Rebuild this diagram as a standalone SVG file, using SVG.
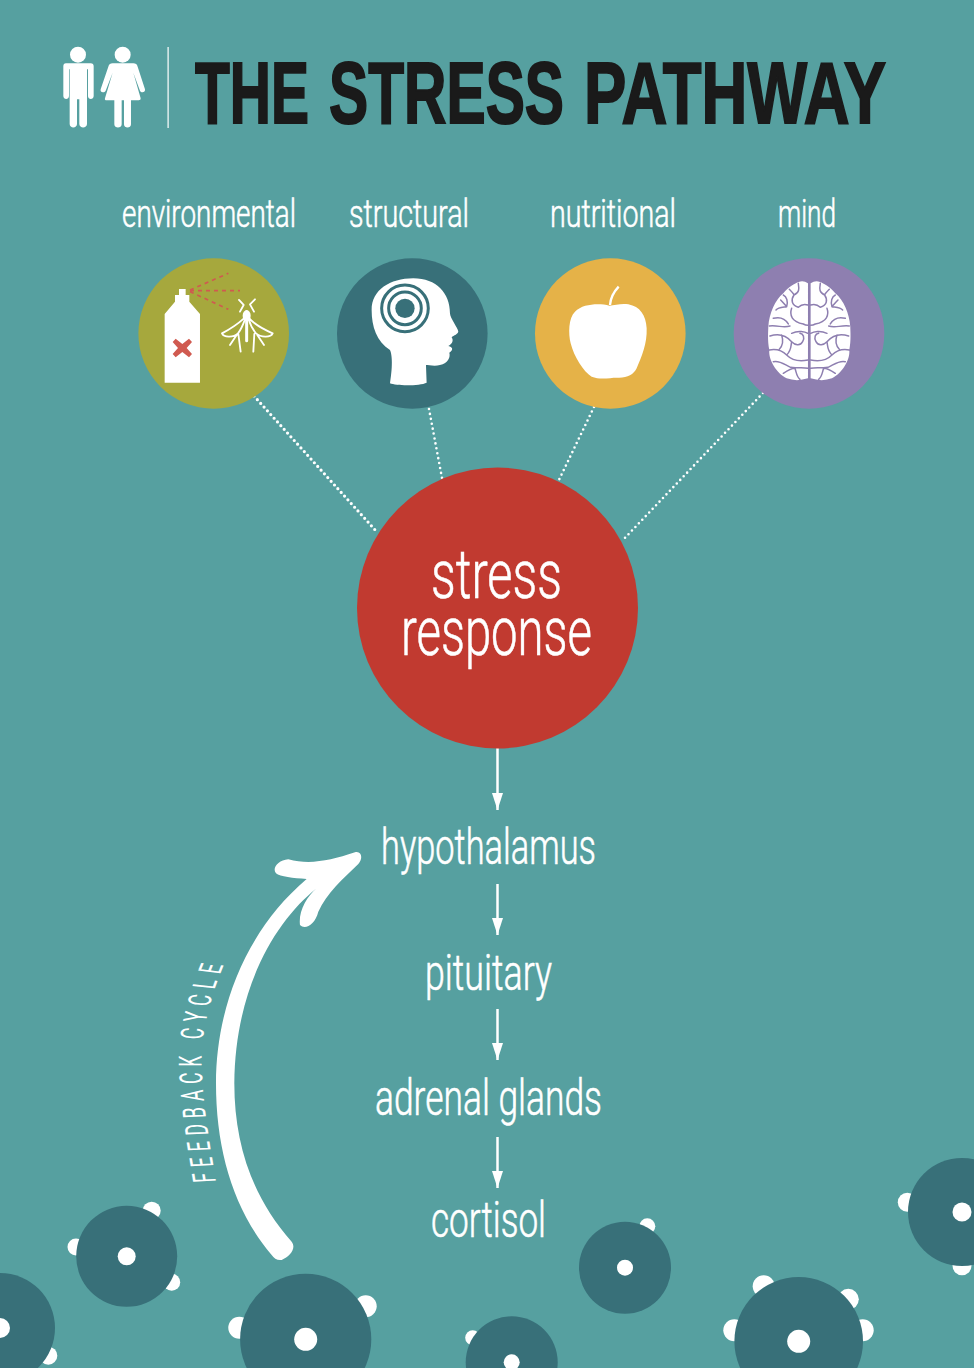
<svg xmlns="http://www.w3.org/2000/svg" width="974" height="1368" viewBox="0 0 974 1368">
<style>
.w{fill:#fff}
.d{fill:#387079}
.t{font-family:"Roboto","Liberation Sans",sans-serif;font-weight:300;fill:#fff;stroke:#fff;stroke-width:.6}
.dot{fill:none;stroke:#fff;stroke-linecap:round;stroke-dasharray:0 5}
.shaft{fill:none;stroke:#fff;stroke-width:2.5}
.wr{fill:none;stroke:#8e7fb0;stroke-width:4.5;stroke-linecap:round;stroke-linejoin:round}
.ms{fill:none;stroke:#fff;stroke-width:5.5;stroke-linejoin:round;stroke-linecap:round}
.sp{fill:none;stroke:#d05a50;stroke-width:5;stroke-dasharray:12 12}
</style>
<defs>
<marker id="ah" markerUnits="userSpaceOnUse" markerWidth="17" markerHeight="12" refX="17" refY="6" orient="auto" viewBox="0 0 17 12"><path d="M0 .5L17 6L0 11.5Z" fill="#fff"/></marker>
<g id="lobe">
<path class="w" d="M836,96 Q850,90 864,100 V385 Q830,396 800,385 C770,370 745,330 748,300 C742,270 745,240 745,230 C748,190 765,150 790,130 C805,110 825,100 836,96Z"/>
<path class="wr" d="M835,100 C838,118 838,128 822,135 C812,150 815,165 835,172 M864,165 C850,160 842,165 835,172 M808,118 C815,125 820,130 822,135 M790,135 C800,140 805,155 800,170 C790,172 775,172 768,180 M815,175 C808,195 815,215 850,222 C855,225 860,226 864,226 M760,205 C780,200 795,205 805,222 M748,228 C775,225 790,235 810,228 M782,150 C790,158 795,165 800,170 M750,258 C780,248 800,258 815,275 C825,285 840,290 848,275 C855,262 850,252 840,250 M815,250 C835,240 855,245 864,250 M748,300 C775,295 790,305 800,315 C815,330 840,335 864,330 M815,275 C812,290 815,300 800,315 M785,255 C790,270 790,285 778,298 M760,335 C780,330 795,345 812,352 C825,356 845,350 864,355 M790,370 C805,360 815,355 825,355 C830,370 830,380 840,388"/>
</g>
</defs>
<rect width="974" height="1368" fill="#56a0a0"/>
<g id="title">
<g transform="translate(40,30) scale(.3333)">
<circle class="w" cx="114" cy="74" r="24"/>
<path class="w" d="M78,100H152Q161,100 161,109V198C161,210 144,210 144,198V118H141V282C141,296 118,296 118,282V208H111V282C111,296 89,296 89,282V118H87V198C87,210 70,210 70,198V109Q70,100 78,100Z"/>
<circle class="w" cx="248" cy="74" r="24"/>
<path class="w" d="M218,100H280Q290,100 293,110L315,178C317,188 303,190 300,182L280,128L302,205Q303,211 296,211H273V283C273,296 252,296 252,283V211H245V283C245,296 223,296 223,283V211H200Q193,211 195,205L218,128L197,182C193,190 179,188 182,178L205,110Q208,100 218,100Z"/>
</g>
<rect class="w" x="167.5" y="47" width="1.2" height="81"/>
<text y="123" font-family="'Liberation Sans Narrow','Liberation Sans',sans-serif" font-weight="700" font-size="88" fill="#1a1a1a" stroke="#1a1a1a" stroke-width="2"><tspan x="195" textLength="114" lengthAdjust="spacingAndGlyphs">THE</tspan> <tspan x="329" textLength="235" lengthAdjust="spacingAndGlyphs">STRESS</tspan> <tspan x="584" textLength="302" lengthAdjust="spacingAndGlyphs">PATHWAY</tspan></text>
</g>
<g id="connectors">
<path class="dot" stroke-width="3.2" d="M254,396L377,532"/>
<path class="dot" stroke-width="2.6" d="M429,409L442,478"/>
<path class="dot" stroke-width="2.6" d="M594,407L558,482"/>
<path class="dot" stroke-width="2.6" d="M763,393L622,541"/>
<path class="shaft" d="M497.5,748V810" marker-end="url(#ah)"/>
<path class="shaft" d="M497.5,884V935" marker-end="url(#ah)"/>
<path class="shaft" d="M497.5,1009V1060" marker-end="url(#ah)"/>
<path class="shaft" d="M497.5,1137V1188" marker-end="url(#ah)"/>
</g>
<g id="node-environmental">
<text class="t" x="122" y="227" font-size="38" textLength="174" lengthAdjust="spacingAndGlyphs">environmental</text>
<circle cx="213.7" cy="333.5" r="75.3" fill="#a6a83d"/>
<g transform="translate(120,250) scale(.3333)">
<path class="w" d="M134,398V192L165,155V135H177V117H197V135H208V155L240,192V398Z"/>
<path d="M187,294m-20,-28l20,16l20,-16l9,10l-16,18l16,18l-9,10l-20,-16l-20,16l-9,-10l16,-18l-16,-18Z" fill="#d05a50"/>
<path class="sp" d="M210,120L325,70M210,122L360,122M210,125L325,178"/>
<path class="ms" d="M357,150L371,165L360,185M405,148L390,163L402,185M372,205C350,225 325,240 306,250C312,264 342,262 354,250C362,240 370,222 375,208M388,205C405,225 435,240 458,250C452,264 422,262 408,250C398,238 390,222 386,208M352,252L330,285M355,252L362,305M403,252L400,305M412,255L432,285"/>
<path class="ms" style="stroke-width:9" d="M380,185V272"/>
<ellipse class="w" cx="380" cy="197" rx="12" ry="17"/>
</g>
</g>
<g id="node-structural">
<text class="t" x="349" y="227" font-size="38" textLength="120" lengthAdjust="spacingAndGlyphs">structural</text>
<circle class="d" cx="412.3" cy="333.5" r="75.3"/>
<g transform="translate(120,250) scale(.3333)">
<path class="w" d="M810,400C820,340 815,310 810,300C770,275 755,230 755,180C755,120 810,85 880,85C950,85 990,130 990,190C990,205 1015,235 1015,245C1012,255 995,258 995,262C1000,270 1000,280 985,288C1000,292 1000,300 988,308C992,320 985,340 960,345C945,350 925,345 918,345L920,398C900,408 830,408 810,400Z"/>
<circle cx="855" cy="175" r="70" fill="none" stroke="#387079" stroke-width="9"/>
<circle cx="855" cy="175" r="49" fill="none" stroke="#387079" stroke-width="9"/>
<circle class="d" cx="855" cy="175" r="29"/>
</g>
</g>
<g id="node-nutritional">
<text class="t" x="550" y="227" font-size="38" textLength="126" lengthAdjust="spacingAndGlyphs">nutritional</text>
<circle cx="610.3" cy="333.5" r="75.3" fill="#e5b248"/>
<g transform="translate(520,250) scale(.3333)">
<path class="w" d="M268,167C240,160 190,160 165,185C145,205 145,250 152,280C162,320 190,365 215,380C240,390 270,383 290,383C320,385 340,375 350,355C365,320 382,280 380,235C378,195 360,170 325,163C305,160 285,165 268,167Z"/>
<path d="M270,165C272,140 282,125 296,110" fill="none" stroke="#fff" stroke-width="7"/>
</g>
</g>
<g id="node-mind">
<text class="t" x="778" y="227" font-size="38" textLength="58" lengthAdjust="spacingAndGlyphs">mind</text>
<circle cx="809" cy="333.5" r="75.3" fill="#8e7fb0"/>
<g transform="translate(520,250) scale(.3333)">
<use href="#lobe"/>
<use href="#lobe" transform="translate(1736,0) scale(-1,1)"/>
</g>
</g>
<g id="node-stress-response">
<circle cx="497.5" cy="608" r="140.5" fill="#c13a30"/>
<text class="t" x="431" y="598" font-size="68" textLength="131" lengthAdjust="spacingAndGlyphs">stress</text>
<text class="t" x="401" y="655" font-size="68" textLength="191" lengthAdjust="spacingAndGlyphs">response</text>
</g>
<g id="node-hypothalamus"><text class="t" x="381" y="864" font-size="50" textLength="215" lengthAdjust="spacingAndGlyphs">hypothalamus</text></g>
<g id="node-pituitary"><text class="t" x="425" y="990" font-size="50" textLength="127" lengthAdjust="spacingAndGlyphs">pituitary</text></g>
<g id="node-adrenal-glands"><text class="t" x="375" y="1115" font-size="50" textLength="227" lengthAdjust="spacingAndGlyphs">adrenal glands</text></g>
<g id="node-cortisol"><text class="t" x="431" y="1237" font-size="50" textLength="115" lengthAdjust="spacingAndGlyphs">cortisol</text></g>
<g id="feedback">
<path class="w" transform="translate(170,840) scale(.3333)" d="M305,1245C190,1110 138,930 138,730C138,500 230,270 410,117C370,115 330,110 318,100C305,85 325,60 355,58C420,75 480,62 555,37C575,32 580,55 565,72C520,115 470,160 445,215C435,255 405,270 390,255C385,215 410,170 440,145C320,240 195,440 193,730C193,910 245,1070 365,1205C380,1225 360,1250 335,1260C322,1262 312,1255 305,1245Z"/>
<path id="fbp" fill="none" d="M216,2149C205,2030 200,1960 202,1900C205,1850 214,1790 232,1720"/>
<text transform="scale(1,.55)" font-family="'Roboto',sans-serif" font-weight="400" font-size="32" fill="#fff" letter-spacing="10.5"><textPath href="#fbp">FEEDBACK CYCLE</textPath></text>
</g>
<g id="cells">
<circle class="w" cx="151.7" cy="1210.7" r="9"/><circle class="w" cx="76" cy="1247" r="8.5"/><circle class="w" cx="171.7" cy="1282.3" r="8.5"/>
<circle class="d" cx="126.7" cy="1256.3" r="50.5"/><circle class="w" cx="126.7" cy="1256.3" r="9"/>
<circle class="w" cx="48.3" cy="1355.7" r="9"/>
<circle class="d" cx="0" cy="1328" r="55"/><circle class="w" cx="0" cy="1328" r="10"/>
<circle class="w" cx="365.7" cy="1306.3" r="11"/><circle class="w" cx="239.3" cy="1327.7" r="11"/>
<circle class="d" cx="305.7" cy="1339.3" r="65.6"/><circle class="w" cx="305.7" cy="1339.3" r="11.5"/>
<circle class="w" cx="472.7" cy="1337.7" r="7.5"/>
<circle class="d" cx="511.7" cy="1362.3" r="46"/><circle class="w" cx="511.7" cy="1362.3" r="8"/>
<circle class="w" cx="647.3" cy="1226.3" r="8"/>
<circle class="d" cx="625" cy="1267.7" r="46"/><circle class="w" cx="625" cy="1267.7" r="8"/>
<circle class="w" cx="763.7" cy="1286.3" r="11"/><circle class="w" cx="848.3" cy="1299.3" r="10.5"/><circle class="w" cx="862.7" cy="1330.3" r="11"/><circle class="w" cx="734.3" cy="1330.3" r="11"/>
<circle class="d" cx="798.7" cy="1341.3" r="64.3"/><circle class="w" cx="798.7" cy="1341.3" r="11.5"/>
<circle class="w" cx="907.3" cy="1202.3" r="9.5"/><circle class="w" cx="962" cy="1265.7" r="9.5"/>
<circle class="d" cx="962" cy="1212" r="54"/><circle class="w" cx="962" cy="1212" r="9.5"/>
</g>
</svg>
